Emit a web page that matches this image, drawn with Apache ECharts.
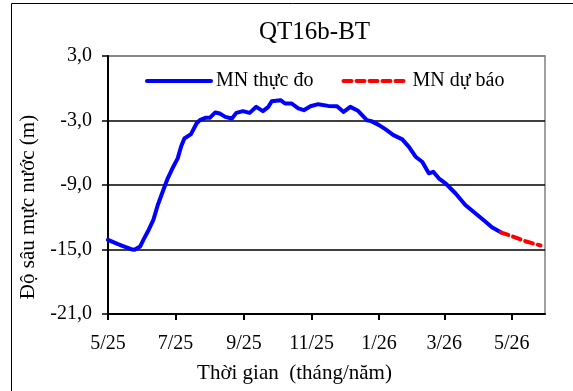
<!DOCTYPE html>
<html>
<head>
<meta charset="utf-8">
<script src="https://cdn.jsdelivr.net/npm/echarts@6/dist/echarts.min.js"></script>
<style>
html,body{margin:0;padding:0;background:#fff;}
#chart{width:573px;height:391px;}
</style>
</head>
<body>
<div id="chart"></div>
<script>
// ---- data ----
const titleText = 'QT16b-BT';
const seriesNames = ['MN thực đo', 'MN dự báo'];
const observedDates = [
  '2025-05-01','2025-05-10','2025-05-14','2025-05-22','2025-05-25','2025-05-30','2025-06-02','2025-06-06',
  '2025-06-11','2025-06-15','2025-06-20','2025-06-24','2025-06-29','2025-07-03','2025-07-06','2025-07-09',
  '2025-07-15','2025-07-20','2025-07-23','2025-07-28','2025-08-01','2025-08-06','2025-08-10','2025-08-15',
  '2025-08-21','2025-08-25','2025-08-31','2025-09-06','2025-09-12','2025-09-18','2025-09-23','2025-09-26',
  '2025-10-04','2025-10-08','2025-10-14','2025-10-20','2025-10-25','2025-10-31','2025-11-07','2025-11-16',
  '2025-11-24','2025-11-30','2025-12-06','2025-12-13','2025-12-21','2025-12-25','2026-01-01','2026-01-07',
  '2026-01-14','2026-01-22','2026-01-28','2026-02-03','2026-02-09','2026-02-15','2026-02-19','2026-02-24',
  '2026-03-02','2026-03-11','2026-03-20','2026-03-29','2026-04-07','2026-04-13','2026-04-21'
];
const observedValues = [
  -14.1,-14.5,-14.66,-14.97,-15.03,-14.73,-14.1,-13.33,
  -12.25,-10.86,-9.46,-8.38,-7.3,-6.52,-5.45,-4.67,
  -4.27,-3.28,-2.97,-2.75,-2.75,-2.25,-2.35,-2.66,
  -2.81,-2.29,-2.13,-2.29,-1.73,-2.13,-1.73,-1.2,
  -1.11,-1.42,-1.42,-1.88,-2.04,-1.67,-1.48,-1.64,
  -1.67,-2.2,-1.73,-2.1,-2.97,-3.06,-3.43,-3.83,
  -4.36,-4.76,-5.45,-6.37,-6.84,-7.91,-7.77,-8.38,
  -8.84,-9.77,-10.86,-11.63,-12.4,-12.93,-13.4
];
const forecastDates = ['2026-04-21','2026-05-02','2026-05-14','2026-05-25','2026-05-27'];
const forecastValues = [-13.4,-13.8,-14.26,-14.57,-14.63];
const tickDates = ['2025-05-01','2025-07-01','2025-09-01','2025-11-01','2026-01-01','2026-03-01','2026-05-01'];
const tickLabels = ['5/25','7/25','9/25','11/25','1/26','3/26','5/26'];
const xStart = '2025-05-01';
const xEnd = '2026-05-31';
const yTicks = [-21, -15, -9, -3, 3];
const xAxisTitle = 'Thời gian  (tháng/năm)';
const yAxisTitle = 'Độ sâu mực nước (m)';

// ---- helpers ----
const dayNo = s => { const p = s.split('-').map(Number); return Math.round((Date.UTC(p[0], p[1]-1, p[2]) - Date.UTC(2025, 4, 1)) / 86400000); };
const pairs = (d, v) => d.map((s, i) => [dayNo(s), v[i]]);
const tickDays = tickDates.map(dayNo);
const FONT = "'Liberation Serif','Times New Roman',serif";

const chart = echarts.init(document.getElementById('chart'), null, {renderer: 'canvas'});
chart.setOption({
  backgroundColor: '#fff',
  animation: false,
  graphic: [{
    type: 'rect', silent: true, z: -10,
    shape: {x: 11.5, y: 3.5, width: 700, height: 500},
    style: {fill: 'none', stroke: '#000', lineWidth: 1}
  }],
  title: {
    text: titleText, left: 254, top: 15,
    textStyle: {fontFamily: FONT, fontSize: 25, fontWeight: 'normal', color: '#000'}
  },
  legend: {
    show: true, left: 140, top: 66, itemWidth: 64, itemHeight: 20, itemGap: 28,
    itemStyle: {opacity: 0},
    lineStyle: {width: 4},
    textStyle: {fontFamily: FONT, fontSize: 20, color: '#000'},
    data: seriesNames
  },
  grid: {left: 108, right: 28, top: 56, bottom: 77, show: true, borderColor: '#808080', borderWidth: 1.5},
  xAxis: {
    type: 'value', min: dayNo(xStart), max: dayNo(xEnd),
    name: xAxisTitle, nameLocation: 'middle', nameGap: 49,
    nameTextStyle: {fontFamily: FONT, fontSize: 21, color: '#000', padding: [0, 64, 0, 0]},
    axisLine: {show: true, onZero: false, lineStyle: {color: '#000', width: 2}},
    axisTick: {show: true, inside: false, length: 6, customValues: tickDays, lineStyle: {color: '#000', width: 2}},
    axisLabel: {
      customValues: tickDays, margin: 20, color: '#000', fontFamily: FONT, fontSize: 20,
      formatter: v => { const i = tickDays.indexOf(Math.round(v)); return i >= 0 ? tickLabels[i] : ''; }
    },
    splitLine: {show: false}
  },
  yAxis: {
    type: 'value', min: yTicks[0], max: yTicks[yTicks.length-1], interval: 6,
    name: yAxisTitle, nameLocation: 'middle', nameRotate: 90, nameGap: 66,
    nameTextStyle: {fontFamily: FONT, fontSize: 21, color: '#000', padding: [0, 44, 0, 0]},
    axisLine: {show: true, onZero: false, lineStyle: {color: '#000', width: 2}},
    axisTick: {show: true, inside: false, length: 6, lineStyle: {color: '#000', width: 1.5}},
    axisLabel: {margin: 16, color: '#000', fontFamily: FONT, fontSize: 20,
      formatter: v => v.toFixed(1).replace('.', ',')},
    splitLine: {show: true, lineStyle: {color: ['#000','#000','#000','#000','#808080'], width: 1.5}}
  },
  series: [
    {name: seriesNames[0], type: 'line', data: pairs(observedDates, observedValues), symbol: 'none',
     lineStyle: {color: '#0000FF', width: 4, join: 'round', cap: 'round'}, itemStyle: {color: '#0000FF'}, z: 3},
    {name: seriesNames[1], type: 'line', data: pairs(forecastDates, forecastValues), symbol: 'none',
     lineStyle: {color: '#FF0000', width: 4, type: [8,5], cap: 'round'}, itemStyle: {color: '#FF0000'}, z: 4}
  ]
});
</script>
</body>
</html>
